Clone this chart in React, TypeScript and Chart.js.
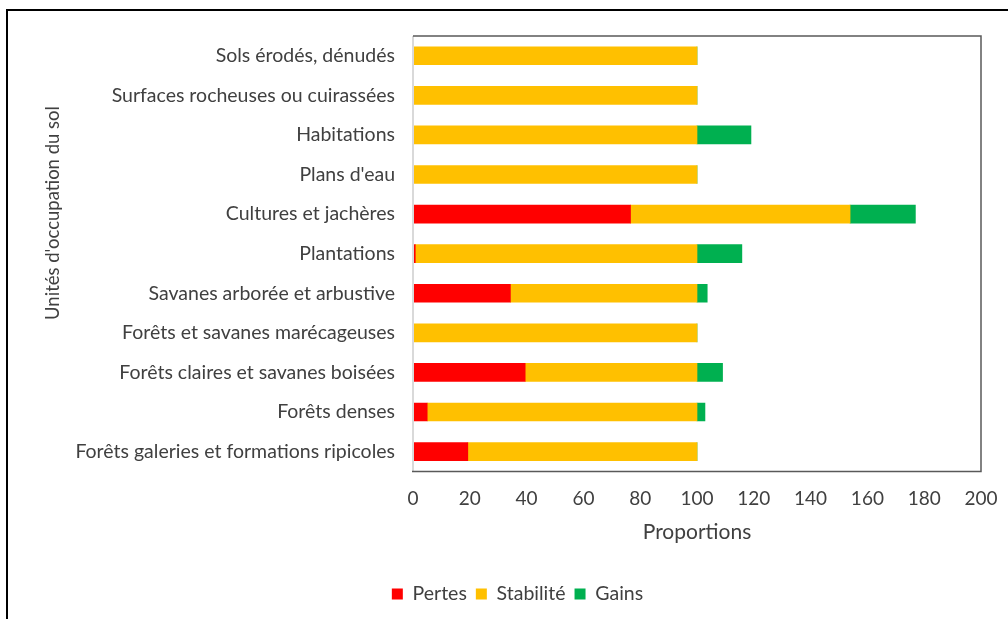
import React, { useEffect, useRef } from "react";
import { Chart, registerables } from "chart.js";

Chart.register(...registerables);

const categories = [
  "Sols érodés, dénudés",
  "Surfaces rocheuses ou cuirassées",
  "Habitations",
  "Plans d'eau",
  "Cultures et jachères",
  "Plantations",
  "Savanes arborée et arbustive",
  "Forêts et savanes marécageuses",
  "Forêts claires et savanes boisées",
  "Forêts denses",
  "Forêts galeries et formations ripicoles",
];

const pertes = [0, 0, 0, 0, 76.6, 0.8, 34.3, 0, 39.5, 5.0, 19.3];
const stabilite = [100, 100, 100, 100, 77.3, 99.2, 65.7, 100, 60.5, 95.0, 80.7];
const gains = [0, 0, 19.0, 0, 23.0, 15.8, 3.6, 0, 9.0, 2.8, 0];

const xTitle = "Proportions";
const yTitle = "Unités d'occupation du sol";

const FONT = "Lato";
const TEXT = "#404040";

const framePlugin = {
  id: "framePlugin",
  beforeDraw(chart: any) {
    const ctx = chart.ctx;
    ctx.save();
    ctx.fillStyle = "#000";
    ctx.fillRect(6, 9, 1002, 2);
    ctx.fillRect(6, 9, 2, 610);
    ctx.restore();
  },
  afterDraw(chart: any) {
    const { ctx, chartArea } = chart;
    const { left, right, top, bottom } = chartArea;
    ctx.save();
    ctx.lineWidth = 2;
    ctx.strokeStyle = "#d9d9d9";
    ctx.beginPath();
    ctx.moveTo(left, top);
    ctx.lineTo(left, bottom);
    ctx.stroke();
    ctx.strokeStyle = "#595959";
    ctx.lineWidth = 1.5;
    ctx.beginPath();
    ctx.moveTo(left, top);
    ctx.lineTo(right, top);
    ctx.lineTo(right, bottom);
    ctx.lineTo(left - 1, bottom);
    ctx.stroke();
    // y axis title
    ctx.translate(53, 213);
    ctx.rotate(-Math.PI / 2);
    ctx.fillStyle = TEXT;
    ctx.font = `18.5px ${FONT}`;
    ctx.textAlign = "center";
    ctx.textBaseline = "middle";
    ctx.fillText(yTitle, 0, 0);
    ctx.restore();
  },
};

export default function App() {
  const ref = useRef<HTMLCanvasElement | null>(null);

  useEffect(() => {
    if (!ref.current) return;
    const chart = new Chart(ref.current, {
      type: "bar",
      data: {
        labels: categories,
        datasets: [
          { label: "Pertes", data: pertes, backgroundColor: "#FF0000", barThickness: 18 },
          { label: "Stabilité", data: stabilite, backgroundColor: "#FFC000", barThickness: 18 },
          { label: "Gains", data: gains, backgroundColor: "#00B050", barThickness: 18 },
        ],
      },
      options: {
        indexAxis: "y",
        responsive: false,
        animation: false,
        layout: { padding: { left: 54, right: 27, top: 36, bottom: 5.25 } },
        plugins: {
          legend: {
            position: "bottom",
            labels: {
              boxWidth: 11,
              boxHeight: 11,
              padding: 9,
              color: TEXT,
              font: { family: FONT, size: 19.5 },
            },
          },
          tooltip: { enabled: false },
        },
        scales: {
          x: {
            stacked: true,
            min: 0,
            max: 200,
            ticks: {
              stepSize: 20,
              padding: 15.6,
              maxRotation: 0,
              color: TEXT,
              font: { family: FONT, size: 19 },
            },
            grid: { display: false, drawTicks: false },
            border: { display: false },
            title: {
              display: true,
              text: xTitle,
              color: TEXT,
              font: { family: FONT, size: 21 },
              padding: { top: -6, bottom: 30.65 },
            },
            afterFit: (scale: any) => {
              scale.paddingRight = 0;
              scale.paddingLeft = 0;
            },
          },
          y: {
            stacked: true,
            ticks: {
              padding: 18,
              color: TEXT,
              font: { family: FONT, size: 19.5 },
            },
            grid: { display: false, drawTicks: false },
            border: { display: false },
            afterFit: (scale: any) => {
              scale.width = 359;
            },
          },
        },
      },
      plugins: [framePlugin],
    });
    return () => chart.destroy();
  }, []);

  return (
    <div style={{ position: "fixed", left: 0, top: 0, width: 1008, height: 619, background: "#fff" }}>
      <canvas ref={ref} width={1008} height={619} style={{ width: 1008, height: 619 }} />
    </div>
  );
}
